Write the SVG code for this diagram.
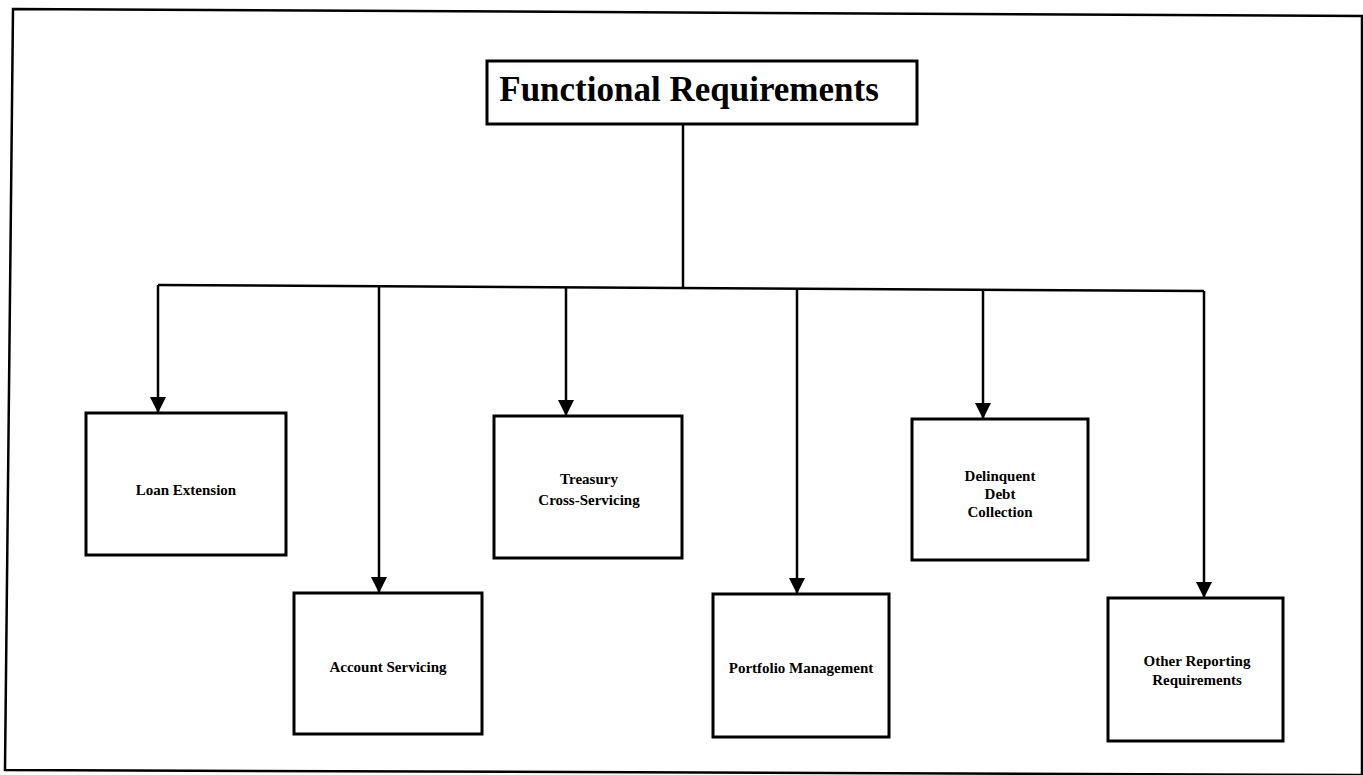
<svg xmlns="http://www.w3.org/2000/svg" width="1363" height="775" viewBox="0 0 1363 775">
<style>
.frame{fill:none;stroke:#000;stroke-width:2.5}
.box{fill:#fff;stroke:#000;stroke-width:3}
.conn{fill:none;stroke:#000;stroke-width:2.5}
.t{font-family:"Liberation Serif","Times New Roman",serif;font-weight:bold;font-size:15px;fill:#000;text-anchor:middle}
.title{font-family:"Liberation Serif","Times New Roman",serif;font-weight:bold;font-size:35px;fill:#000;text-anchor:middle}
</style>
<defs>
<marker id="ah" viewBox="0 0 16 16" refX="16" refY="8" markerWidth="16" markerHeight="16" markerUnits="userSpaceOnUse" orient="auto">
<path d="M0,0 L16,8 L0,16 Z" fill="#000"/>
</marker>
</defs>
<rect width="1363" height="775" fill="#fff"/>
<polygon class="frame" points="13,9 1362,16 1362,775 5,770"/>
<g id="connectors">
<path class="conn" d="M683,124 L683,287"/>
<path class="conn" d="M158,285 L1204,291"/>
<path class="conn" d="M158,285 L158,413" marker-end="url(#ah)"/>
<path class="conn" d="M379,286 L379,593" marker-end="url(#ah)"/>
<path class="conn" d="M566,287 L566,416" marker-end="url(#ah)"/>
<path class="conn" d="M797,288 L797,594" marker-end="url(#ah)"/>
<path class="conn" d="M983,289 L983,419" marker-end="url(#ah)"/>
<path class="conn" d="M1204,291 L1204,598" marker-end="url(#ah)"/>
</g>
<g id="title">
<rect class="box" x="487" y="61" width="430" height="63"/>
<text class="title" x="689" y="101">Functional Requirements</text>
</g>
<g id="loan-extension">
<rect class="box" x="86" y="413" width="200" height="142"/>
<text class="t" x="186" y="495">Loan Extension</text>
</g>
<g id="account-servicing">
<rect class="box" x="294" y="593" width="188" height="141"/>
<text class="t" x="388" y="672">Account Servicing</text>
</g>
<g id="treasury-cross-servicing">
<rect class="box" x="494" y="416" width="188" height="142"/>
<text class="t" x="589" y="484">Treasury</text>
<text class="t" x="589" y="505">Cross-Servicing</text>
</g>
<g id="portfolio-management">
<rect class="box" x="713" y="594" width="176" height="143"/>
<text class="t" x="801" y="673">Portfolio Management</text>
</g>
<g id="delinquent-debt-collection">
<rect class="box" x="912" y="419" width="176" height="141"/>
<text class="t" x="1000" y="481">Delinquent</text>
<text class="t" x="1000" y="499">Debt</text>
<text class="t" x="1000" y="517">Collection</text>
</g>
<g id="other-reporting-requirements">
<rect class="box" x="1108" y="598" width="175" height="143"/>
<text class="t" x="1197" y="666">Other Reporting</text>
<text class="t" x="1197" y="685">Requirements</text>
</g>
</svg>
